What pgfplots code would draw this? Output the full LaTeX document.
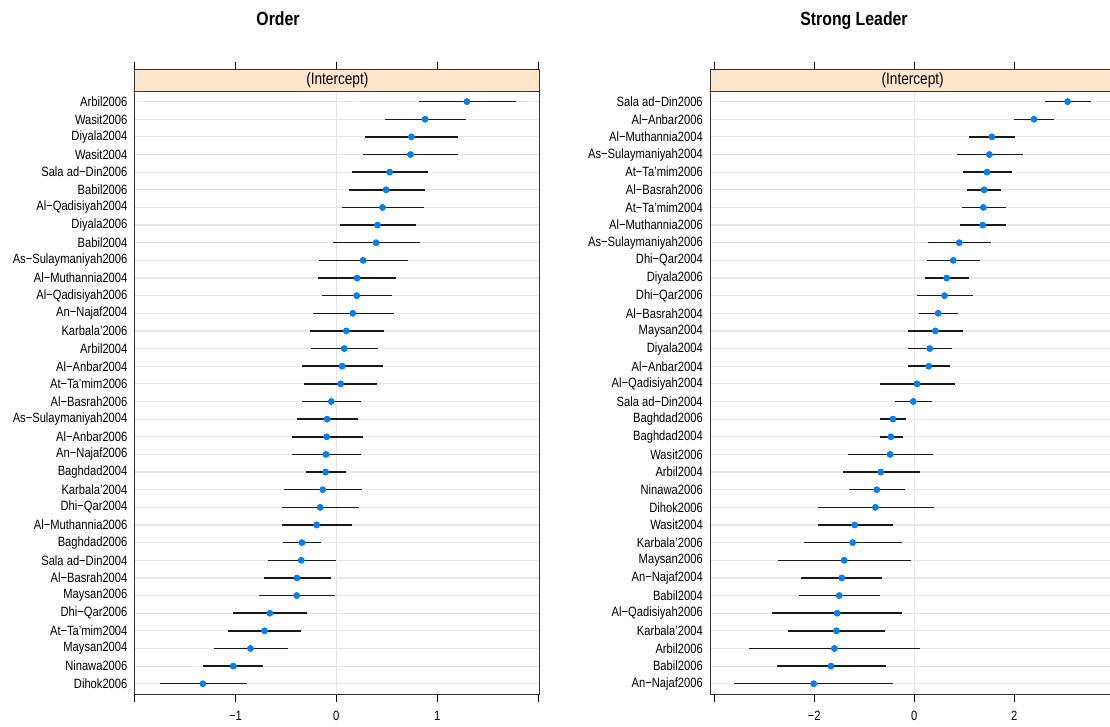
\documentclass[border=0pt]{standalone}
\usepackage{fontspec}
\setmainfont{Liberation Sans}[FakeStretch=0.83]
\usepackage{pgfplots}
\usepackage{pgfplotstable}
\pgfplotsset{compat=1.18}
\definecolor{strip}{HTML}{FFE5CC}
\definecolor{dot}{HTML}{0080FF}
\definecolor{gridc}{HTML}{E6E6E6}

\pgfplotstableread[col sep=comma]{
y,name,lo,est,hi
1,Dihok2006,-1.753,-1.324,-0.887
2,Ninawa2006,-1.320,-1.022,-0.724
3,Maysan2004,-1.217,-0.852,-0.483
4,At−Ta'mim2004,-1.075,-0.713,-0.348
5,Dhi−Qar2006,-1.026,-0.660,-0.291
6,Maysan2006,-0.763,-0.394,-0.014
7,Al−Basrah2004,-0.717,-0.390,-0.050
8,Sala ad−Din2004,-0.681,-0.348,-0.007
9,Baghdad2006,-0.525,-0.341,-0.149
10,Al−Muthannia2006,-0.539,-0.195,0.160
11,Dhi−Qar2004,-0.543,-0.160,0.224
12,Karbala'2004,-0.522,-0.135,0.259
13,Baghdad2004,-0.302,-0.106,0.099
14,An−Najaf2006,-0.440,-0.103,0.248
15,Al−Anbar2006,-0.444,-0.096,0.263
16,As−Sulaymaniyah2004,-0.394,-0.092,0.213
17,Al−Basrah2006,-0.337,-0.050,0.248
18,At−Ta'mim2006,-0.316,0.043,0.405
19,Al−Anbar2004,-0.341,0.057,0.461
20,Arbil2004,-0.252,0.078,0.412
21,Karbala'2006,-0.263,0.099,0.476
22,An−Najaf2004,-0.234,0.163,0.568
23,Al−Qadisiyah2006,-0.142,0.202,0.557
24,Al−Muthannia2004,-0.177,0.206,0.589
25,As−Sulaymaniyah2006,-0.174,0.266,0.706
26,Babil2004,-0.032,0.394,0.830
27,Diyala2006,0.039,0.408,0.791
28,Al−Qadisiyah2004,0.053,0.458,0.869
29,Babil2006,0.121,0.493,0.877
30,Sala ad−Din2006,0.153,0.529,0.908
31,Wasit2004,0.263,0.735,1.210
32,Diyala2004,0.287,0.745,1.210
33,Wasit2006,0.479,0.880,1.288
34,Arbil2006,0.816,1.295,1.785
}\Ltab

\pgfplotstableread[col sep=comma]{
y,name,lo,est,hi
1,An−Najaf2006,-3.597,-2.013,-0.428
2,Babil2006,-2.742,-1.669,-0.575
3,Arbil2006,-3.303,-1.599,0.105
4,Karbala'2004,-2.518,-1.557,-0.589
5,Al−Qadisiyah2006,-2.847,-1.543,-0.238
6,Babil2004,-2.307,-1.501,-0.694
7,An−Najaf2004,-2.258,-1.452,-0.638
8,Maysan2006,-2.721,-1.403,-0.070
9,Karbala'2006,-2.209,-1.234,-0.252
10,Wasit2004,-1.935,-1.192,-0.428
11,Dihok2006,-1.928,-0.778,0.393
12,Ninawa2006,-1.297,-0.750,-0.189
13,Arbil2004,-1.431,-0.673,0.105
14,Wasit2006,-1.318,-0.484,0.379
15,Baghdad2004,-0.680,-0.470,-0.231
16,Baghdad2006,-0.687,-0.428,-0.168
17,Sala ad−Din2004,-0.386,-0.021,0.358
18,Al−Qadisiyah2004,-0.680,0.056,0.820
19,Al−Anbar2004,-0.126,0.288,0.708
20,Diyala2004,-0.126,0.309,0.757
21,Maysan2004,-0.126,0.421,0.975
22,Al−Basrah2004,0.098,0.477,0.870
23,Dhi−Qar2006,0.056,0.603,1.171
24,Diyala2006,0.217,0.645,1.087
25,Dhi−Qar2004,0.252,0.778,1.304
26,As−Sulaymaniyah2006,0.281,0.898,1.529
27,Al−Muthannia2006,0.905,1.367,1.837
28,At−Ta'mim2004,0.954,1.381,1.830
29,Al−Basrah2006,1.052,1.396,1.739
30,At−Ta'mim2006,0.975,1.452,1.950
31,As−Sulaymaniyah2004,0.856,1.501,2.167
32,Al−Muthannia2004,1.094,1.550,2.013
33,Al−Anbar2006,1.999,2.391,2.784
34,Sala ad−Din2006,2.616,3.065,3.527
}\Rtab

\pgfplotsset{
  dp/.style={
    scale only axis, width=304pt, height=468.45pt,
    anchor=south west,
    ymin=0.4, ymax=35.807,
    ytick={1,...,34},
    ymajorgrids, grid style={gridc, line width=0.9pt},
    ytick style={draw=none},
    tick align=outside,
    major tick length=6pt,
    xtick style={black, line width=0.6pt},
    axis line style={black!80, line width=0.75pt},
    tick label style={font=\fontsize{10.1}{12}\selectfont},
    yticklabel style={inner xsep=0pt},
    yticklabel shift=-0.75pt,
    xticklabel style={yshift=-3pt},
    enlargelimits=false,
  },
  ebar/.style={only marks, mark=none,
    error bars/.cd, x dir=both, x explicit, error mark=none,
    error bar style={black!90, line width=1.1pt}},
  pts/.style={only marks, mark=*, mark size=2.3pt, mark options={fill=dot, draw=dot}},
}

\begin{document}
\begin{tikzpicture}
% Left panel
\begin{axis}[dp, at={(101pt,24.5pt)},
  xmin=-2, xmax=2.02,
  xtick={-2,-1,0,1,2}, xticklabels={,−1,0,1,},
  yticklabels from table={\Ltab}{name}]
  \draw[gridc, line width=0.75pt] (axis cs:0,0.4) -- (axis cs:0,34.6);
  \addplot[ebar] table[x=est, y=y, x error plus expr=\thisrow{hi}-(\thisrow{est}), x error minus expr=\thisrow{est}-(\thisrow{lo})] {\Ltab};
  \addplot[pts] table[x=est, y=y] {\Ltab};
  \draw[fill=strip, draw=black!80, line width=0.75pt] (axis cs:-2,34.6) rectangle (axis cs:2.02,35.807);
  \node[font=\fontsize{12.3}{14}\selectfont] at (axis cs:0.01,35.2) {(Intercept)};
\end{axis}
% Right panel
\begin{axis}[dp, at={(532.5pt,24.5pt)},
  xmin=-4.086, xmax=4.02,
  xtick={-4,-2,0,2,4}, xticklabels={,−2,0,2,},
  yticklabels from table={\Rtab}{name}]
  \draw[gridc, line width=0.75pt] (axis cs:0,0.4) -- (axis cs:0,34.6);
  \addplot[ebar] table[x=est, y=y, x error plus expr=\thisrow{hi}-(\thisrow{est}), x error minus expr=\thisrow{est}-(\thisrow{lo})] {\Rtab};
  \addplot[pts] table[x=est, y=y] {\Rtab};
  \draw[fill=strip, draw=black!80, line width=0.75pt] (axis cs:-4.086,34.6) rectangle (axis cs:4.02,35.807);
  \node[font=\fontsize{12.3}{14}\selectfont] at (axis cs:-0.033,35.2) {(Intercept)};
\end{axis}
\node[anchor=base, font=\fontsize{14.3}{17}\selectfont\bfseries] at (208.5pt,525.75pt) {Order};
\node[anchor=base, font=\fontsize{14.3}{17}\selectfont\bfseries] at (640.5pt,525.75pt) {Strong Leader};
\pgfresetboundingbox
\path[use as bounding box] (0,0) rectangle (832.5pt,545.25pt);
\end{tikzpicture}
\end{document}
